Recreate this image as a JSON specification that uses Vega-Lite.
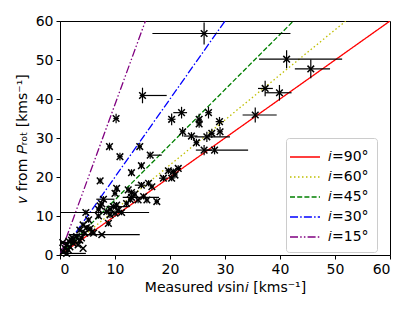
{
  "$schema": "https://vega.github.io/schema/vega-lite/v6.json",
  "width": 330,
  "height": 234,
  "autosize": {"type": "none"},
  "padding": {"left": 60, "top": 21, "right": 25, "bottom": 56},
  "background": "white",
  "config": {
    "font": "DejaVu Sans",
    "view": {"stroke": "black", "strokeWidth": 1},
    "axis": {"grid": false, "domainColor": "black", "tickColor": "black", "labelColor": "black", "titleColor": "black", "labelFontSize": 14, "titleFontSize": 14, "titleFontWeight": "normal", "tickSize": 4, "labelPadding": 3, "labelOverlap": false},
    "legend": {"labelFontSize": 14, "labelColor": "black"}
  },
  "datasets": {
    "lines": [
      {"inc": "𝑖=90°", "x": 0, "y": 0}, {"inc": "𝑖=90°", "x": 60, "y": 60},
      {"inc": "𝑖=60°", "x": 0, "y": 0}, {"inc": "𝑖=60°", "x": 51.96, "y": 60},
      {"inc": "𝑖=45°", "x": 0, "y": 0}, {"inc": "𝑖=45°", "x": 42.43, "y": 60},
      {"inc": "𝑖=30°", "x": 0, "y": 0}, {"inc": "𝑖=30°", "x": 30, "y": 60},
      {"inc": "𝑖=15°", "x": 0, "y": 0}, {"inc": "𝑖=15°", "x": 15.53, "y": 60}
    ],
    "stars": [
      {"x": 26.2, "y": 56.8, "xl": 16.8, "xh": 41.9, "yl": 54.0, "yh": 59.6},
      {"x": 41.2, "y": 50.2, "xl": 36.2, "xh": 51.3, "yl": 47.9, "yh": 52.5},
      {"x": 45.6, "y": 47.7, "xl": 42.7, "xh": 49.1, "yl": 45.3, "yh": 50.1},
      {"x": 37.3, "y": 42.7, "xl": 36.0, "xh": 38.7, "yl": 40.7, "yh": 44.7},
      {"x": 39.9, "y": 41.6, "xl": 37.3, "xh": 42.1, "yl": 39.6, "yh": 43.6},
      {"x": 35.5, "y": 35.9, "xl": 33.2, "xh": 39.4, "yl": 34.0, "yh": 37.8},
      {"x": 15.0, "y": 40.9, "xl": 14.5, "xh": 19.4, "yl": 38.9, "yh": 42.9},
      {"x": 20.3, "y": 34.8, "xl": 19.6, "xh": 21.0, "yl": 33.3, "yh": 36.3},
      {"x": 22.1, "y": 36.5, "xl": 20.6, "xh": 23.1, "yl": 35.0, "yh": 38.0},
      {"x": 25.3, "y": 34.8, "xl": 24.8, "xh": 25.8, "yl": 33.6, "yh": 36.2},
      {"x": 25.3, "y": 33.6, "xl": 24.8, "xh": 25.8, "yl": 32.6, "yh": 34.6},
      {"x": 27.0, "y": 36.5, "xl": 26.4, "xh": 27.6, "yl": 35.0, "yh": 38.0},
      {"x": 22.3, "y": 31.6, "xl": 21.8, "xh": 22.8, "yl": 30.4, "yh": 32.8},
      {"x": 23.9, "y": 30.5, "xl": 22.5, "xh": 25.0, "yl": 29.5, "yh": 31.5},
      {"x": 26.7, "y": 30.3, "xl": 24.5, "xh": 30.9, "yl": 29.0, "yh": 31.6},
      {"x": 27.6, "y": 31.2, "xl": 27.1, "xh": 28.1, "yl": 30.0, "yh": 32.4},
      {"x": 29.0, "y": 34.2, "xl": 28.3, "xh": 29.8, "yl": 33.0, "yh": 35.4},
      {"x": 29.1, "y": 31.6, "xl": 28.6, "xh": 29.6, "yl": 30.4, "yh": 32.8},
      {"x": 24.8, "y": 28.8, "xl": 24.3, "xh": 25.3, "yl": 27.8, "yh": 29.8},
      {"x": 26.2, "y": 26.9, "xl": 24.7, "xh": 27.6, "yl": 25.6, "yh": 28.2},
      {"x": 28.1, "y": 26.9, "xl": 26.1, "xh": 34.2, "yl": 25.8, "yh": 28.0},
      {"x": 19.7, "y": 21.6, "xl": 19.2, "xh": 20.2, "yl": 20.8, "yh": 22.4},
      {"x": 20.6, "y": 21.4, "xl": 20.1, "xh": 21.1, "yl": 20.6, "yh": 22.2},
      {"x": 21.5, "y": 22.2, "xl": 21.0, "xh": 22.0, "yl": 21.4, "yh": 23.0},
      {"x": 20.3, "y": 19.7, "xl": 19.8, "xh": 20.8, "yl": 18.9, "yh": 20.5},
      {"x": 18.8, "y": 19.7, "xl": 18.0, "xh": 19.6, "yl": 18.9, "yh": 20.5},
      {"x": 20.9, "y": 20.5, "xl": 20.4, "xh": 21.4, "yl": 19.7, "yh": 21.3},
      {"x": 7.3, "y": 19.0, "xl": 6.9, "xh": 7.7, "yl": 18.2, "yh": 19.8},
      {"x": 9.0, "y": 27.8, "xl": 8.6, "xh": 9.4, "yl": 26.8, "yh": 28.8},
      {"x": 10.2, "y": 35.0, "xl": 9.7, "xh": 10.7, "yl": 33.8, "yh": 36.2},
      {"x": 10.9, "y": 25.2, "xl": 10.4, "xh": 11.4, "yl": 24.2, "yh": 26.2},
      {"x": 13.0, "y": 21.1, "xl": 12.6, "xh": 13.4, "yl": 20.2, "yh": 22.0},
      {"x": 14.8, "y": 22.9, "xl": 14.4, "xh": 15.2, "yl": 22.0, "yh": 23.8},
      {"x": 14.5, "y": 27.8, "xl": 14.1, "xh": 14.9, "yl": 26.8, "yh": 28.8},
      {"x": 16.4, "y": 25.6, "xl": 15.9, "xh": 18.5, "yl": 24.7, "yh": 26.5},
      {"x": 10.3, "y": 17.1, "xl": 9.9, "xh": 10.7, "yl": 16.3, "yh": 17.9},
      {"x": 10.0, "y": 15.8, "xl": 9.6, "xh": 10.4, "yl": 15.0, "yh": 16.6},
      {"x": 12.4, "y": 16.7, "xl": 12.0, "xh": 12.8, "yl": 15.9, "yh": 17.5},
      {"x": 13.0, "y": 16.0, "xl": 12.6, "xh": 13.4, "yl": 15.2, "yh": 16.8},
      {"x": 13.6, "y": 15.6, "xl": 13.2, "xh": 14.0, "yl": 14.8, "yh": 16.4},
      {"x": 14.8, "y": 17.9, "xl": 13.6, "xh": 15.5, "yl": 17.1, "yh": 18.7},
      {"x": 16.1, "y": 18.4, "xl": 15.7, "xh": 16.5, "yl": 17.6, "yh": 19.2},
      {"x": 16.7, "y": 17.5, "xl": 16.3, "xh": 17.1, "yl": 16.7, "yh": 18.3},
      {"x": 15.2, "y": 15.0, "xl": 14.8, "xh": 15.6, "yl": 14.2, "yh": 15.8},
      {"x": 14.2, "y": 14.1, "xl": 13.8, "xh": 14.6, "yl": 13.3, "yh": 14.9},
      {"x": 15.8, "y": 14.1, "xl": 15.4, "xh": 16.2, "yl": 13.3, "yh": 14.9},
      {"x": 17.6, "y": 13.7, "xl": 17.2, "xh": 18.0, "yl": 12.9, "yh": 14.5},
      {"x": 13.0, "y": 14.8, "xl": 11.4, "xh": 18.0, "yl": 14.0, "yh": 15.6},
      {"x": 12.1, "y": 13.2, "xl": 11.7, "xh": 12.5, "yl": 12.4, "yh": 14.0},
      {"x": 10.3, "y": 12.8, "xl": 9.9, "xh": 10.7, "yl": 12.0, "yh": 13.6},
      {"x": 9.7, "y": 12.4, "xl": 8.8, "xh": 12.5, "yl": 11.6, "yh": 13.2},
      {"x": 10.6, "y": 11.5, "xl": 10.2, "xh": 11.0, "yl": 10.7, "yh": 12.3},
      {"x": 10.0, "y": 10.7, "xl": 9.6, "xh": 10.4, "yl": 9.9, "yh": 11.5},
      {"x": 9.1, "y": 11.7, "xl": 8.7, "xh": 9.5, "yl": 10.9, "yh": 12.5},
      {"x": 8.5, "y": 11.1, "xl": 8.1, "xh": 8.9, "yl": 10.3, "yh": 11.9},
      {"x": 9.1, "y": 10.3, "xl": 8.7, "xh": 9.5, "yl": 9.5, "yh": 11.1},
      {"x": 8.8, "y": 8.1, "xl": 8.4, "xh": 9.2, "yl": 7.4, "yh": 8.8},
      {"x": 7.9, "y": 14.3, "xl": 6.6, "xh": 9.9, "yl": 13.5, "yh": 15.1},
      {"x": 7.6, "y": 13.1, "xl": 7.2, "xh": 8.0, "yl": 12.3, "yh": 13.9},
      {"x": 7.0, "y": 11.7, "xl": 6.6, "xh": 7.4, "yl": 10.9, "yh": 12.5},
      {"x": 7.0, "y": 10.0, "xl": 6.6, "xh": 7.4, "yl": 9.3, "yh": 10.7},
      {"x": 7.3, "y": 12.6, "xl": 6.9, "xh": 7.7, "yl": 11.8, "yh": 13.4},
      {"x": 4.7, "y": 10.9, "xl": 0.0, "xh": 16.2, "yl": 10.2, "yh": 11.6},
      {"x": 5.2, "y": 9.0, "xl": 4.8, "xh": 5.6, "yl": 8.3, "yh": 9.7},
      {"x": 4.2, "y": 7.7, "xl": 3.8, "xh": 4.6, "yl": 7.0, "yh": 8.4},
      {"x": 5.5, "y": 6.8, "xl": 5.1, "xh": 5.9, "yl": 6.2, "yh": 7.4},
      {"x": 3.6, "y": 6.4, "xl": 3.2, "xh": 4.0, "yl": 5.8, "yh": 7.0},
      {"x": 4.5, "y": 5.6, "xl": 4.1, "xh": 4.9, "yl": 5.0, "yh": 6.2},
      {"x": 3.0, "y": 4.7, "xl": 2.6, "xh": 3.4, "yl": 4.1, "yh": 5.3},
      {"x": 7.6, "y": 5.2, "xl": 1.8, "xh": 14.5, "yl": 4.8, "yh": 5.6},
      {"x": 6.1, "y": 5.6, "xl": 5.7, "xh": 6.5, "yl": 5.1, "yh": 6.1},
      {"x": 4.2, "y": 1.7, "xl": 4.0, "xh": 4.4, "yl": 1.5, "yh": 1.9},
      {"x": 2.1, "y": 3.8, "xl": 1.8, "xh": 2.4, "yl": 3.3, "yh": 4.3},
      {"x": 1.2, "y": 2.6, "xl": 0.9, "xh": 1.5, "yl": 2.1, "yh": 3.1},
      {"x": 0.9, "y": 1.7, "xl": 0.6, "xh": 1.2, "yl": 1.2, "yh": 2.2},
      {"x": 1.5, "y": 1.3, "xl": 1.2, "xh": 1.8, "yl": 0.8, "yh": 1.8},
      {"x": 0.6, "y": 0.9, "xl": 0.3, "xh": 0.9, "yl": 0.4, "yh": 1.4},
      {"x": 1.8, "y": 2.1, "xl": 1.5, "xh": 2.1, "yl": 1.6, "yh": 2.6},
      {"x": 2.7, "y": 3.4, "xl": 2.4, "xh": 3.0, "yl": 2.9, "yh": 3.9},
      {"x": 3.6, "y": 3.8, "xl": 3.3, "xh": 3.9, "yl": 3.3, "yh": 4.3},
      {"x": 0.5, "y": 3.2, "xl": 0.0, "xh": 4.2, "yl": 2.8, "yh": 3.6},
      {"x": 1.2, "y": 0.4, "xl": 0.0, "xh": 4.7, "yl": 0.1, "yh": 0.7},
      {"x": 2.4, "y": 3.0, "xl": 2.1, "xh": 2.7, "yl": 2.5, "yh": 3.5},
      {"x": 3.3, "y": 2.6, "xl": 3.0, "xh": 3.6, "yl": 2.1, "yh": 3.1},
      {"x": 2.2, "y": 4.5, "xl": 1.9, "xh": 2.5, "yl": 4.0, "yh": 5.0},
      {"x": 1.6, "y": 3.5, "xl": 1.3, "xh": 1.9, "yl": 3.0, "yh": 4.0},
      {"x": 4.8, "y": 7.0, "xl": 4.4, "xh": 5.2, "yl": 6.4, "yh": 7.6},
      {"x": 5.8, "y": 5.9, "xl": 5.4, "xh": 6.2, "yl": 5.3, "yh": 6.5},
      {"x": 3.9, "y": 4.4, "xl": 3.5, "xh": 4.3, "yl": 3.9, "yh": 4.9},
      {"x": 11.2, "y": 10.9, "xl": 10.8, "xh": 11.6, "yl": 10.2, "yh": 11.6},
      {"x": 12.8, "y": 14.2, "xl": 12.4, "xh": 13.2, "yl": 13.4, "yh": 15.0}
    ]
  },
  "layer": [
    {
      "data": {"name": "lines"},
      "mark": {"type": "line", "strokeWidth": 1.3, "clip": true},
      "encoding": {
        "x": {"field": "x", "type": "quantitative", "scale": {"domain": [0, 60], "nice": false}, "axis": {"values": [0, 10, 20, 30, 40, 50, 60], "title": "Measured 𝑣sin𝑖 [kms⁻¹]", "titlePadding": 4}},
        "y": {"field": "y", "type": "quantitative", "scale": {"domain": [0, 60], "nice": false}, "axis": {"values": [0, 10, 20, 30, 40, 50, 60], "tickCount": 7, "title": "𝑣 from 𝑃ᵣₒₜ [kms⁻¹]", "titlePadding": 6}},
        "color": {"field": "inc", "type": "nominal", "scale": {"domain": ["𝑖=90°", "𝑖=60°", "𝑖=45°", "𝑖=30°", "𝑖=15°"], "range": ["#ff0000", "#bfbf00", "#008000", "#0000ff", "#800080"]},
          "legend": {"title": null, "orient": "none", "legendX": 226, "legendY": 117, "symbolType": "M-1.5,0L1.5,0", "symbolSize": 400, "symbolStrokeWidth": 1.5, "rowPadding": 2, "padding": 8, "strokeColor": "#cccccc", "fillColor": "white", "cornerRadius": 3, "labelOffset": 12, "labelFontSize": 14}},
        "strokeDash": {"field": "inc", "type": "nominal", "scale": {"domain": ["𝑖=90°", "𝑖=60°", "𝑖=45°", "𝑖=30°", "𝑖=15°"], "range": [[1, 0], [1.5, 2.5], [5, 2.2], [8, 2.2, 1.5, 2.2], [8, 2.2, 1.5, 2.2, 1.5, 2.2]]},
          "legend": {"title": null, "orient": "none", "legendX": 226, "legendY": 117, "symbolType": "M-1.5,0L1.5,0", "symbolSize": 400, "symbolStrokeWidth": 1.5, "rowPadding": 2, "padding": 8, "strokeColor": "#cccccc", "fillColor": "white", "cornerRadius": 3, "labelOffset": 12, "labelFontSize": 14}}
      }
    },
    {
      "data": {"name": "stars"},
      "mark": {"type": "rule", "color": "black", "strokeWidth": 1.2},
      "encoding": {"x": {"field": "xl", "type": "quantitative"}, "x2": {"field": "xh"}, "y": {"field": "y", "type": "quantitative", "axis": {"values": [0, 10, 20, 30, 40, 50, 60]}}}
    },
    {
      "data": {"name": "stars"},
      "mark": {"type": "rule", "color": "black", "strokeWidth": 1.2},
      "encoding": {"x": {"field": "x", "type": "quantitative"}, "y": {"field": "yl", "type": "quantitative", "axis": {"values": [0, 10, 20, 30, 40, 50, 60]}}, "y2": {"field": "yh"}}
    },
    {
      "data": {"name": "stars"},
      "mark": {"type": "point", "shape": "M-1,-1L1,1M1,-1L-1,1", "stroke": "black", "strokeWidth": 1.5, "size": 44, "filled": false, "opacity": 1},
      "encoding": {"x": {"field": "x", "type": "quantitative"}, "y": {"field": "y", "type": "quantitative", "axis": {"values": [0, 10, 20, 30, 40, 50, 60]}}}
    }
  ]
}
